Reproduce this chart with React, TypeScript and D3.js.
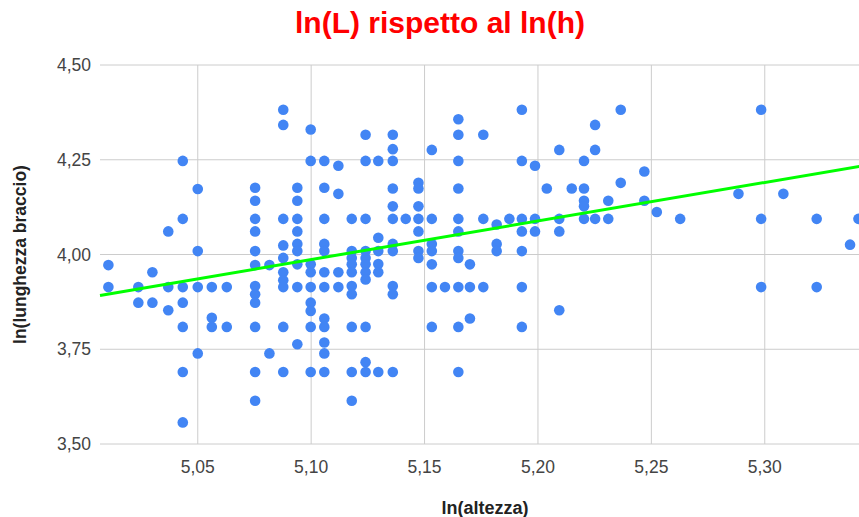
import React, { useEffect, useRef } from "react";
import * as d3 from "d3";

// ln(altezza) -> ln(lunghezza braccio)
const colonne: [number, number[]][] = [
  [5.0106, [3.972, 3.914]],
  [5.0238, [3.914, 3.873]],
  [5.030, [3.953, 3.873]],
  [5.037, [4.061, 3.914, 3.853]],
  [5.0434, [4.247, 4.094, 3.914, 3.873, 3.809, 3.690, 3.557]],
  [5.05, [4.173, 4.009, 3.914, 3.739]],
  [5.0562, [3.914, 3.833, 3.809]],
  [5.0628, [3.914, 3.809]],
  [5.0753, [4.176, 4.142, 4.094, 4.061, 4.009, 3.972, 3.917, 3.895, 3.873, 3.809, 3.690, 3.614]],
  [5.0816, [3.972, 3.739]],
  [5.0877, [4.382, 4.342, 4.094, 4.024, 3.991, 3.953, 3.932, 3.914, 3.809, 3.690]],
  [5.0939, [4.176, 4.142, 4.094, 4.061, 4.028, 4.009, 3.974, 3.914, 3.763]],
  [5.0998, [4.330, 4.247, 3.974, 3.953, 3.914, 3.873, 3.851, 3.809, 3.690]],
  [5.1058, [4.247, 4.176, 4.094, 4.028, 4.009, 3.953, 3.914, 3.831, 3.809, 3.768, 3.739, 3.690]],
  [5.112, [4.234, 4.160, 3.953, 3.914]],
  [5.1179, [4.094, 4.009, 3.991, 3.974, 3.953, 3.917, 3.895, 3.809, 3.690, 3.614]],
  [5.124, [4.316, 4.247, 4.094, 4.009, 3.991, 3.974, 3.953, 3.934, 3.809, 3.716, 3.690]],
  [5.1296, [4.247, 4.044, 4.009, 3.975, 3.953, 3.690]],
  [5.136, [4.316, 4.278, 4.247, 4.174, 4.127, 4.094, 4.028, 4.009, 3.917, 3.895, 3.690]],
  [5.1417, [4.094]],
  [5.1473, [4.189, 4.174, 4.127, 4.094, 4.061, 4.009, 3.991]],
  [5.1532, [4.276, 4.094, 4.028, 4.009, 3.974, 3.914, 3.809]],
  [5.159, [3.914]],
  [5.1649, [4.357, 4.316, 4.247, 4.174, 4.094, 4.061, 4.009, 3.991, 3.914, 3.809, 3.690]],
  [5.170, [3.974, 3.914, 3.831]],
  [5.1759, [4.316, 4.094, 3.914]],
  [5.1818, [4.079, 4.028, 4.009]],
  [5.1874, [4.094]],
  [5.1929, [4.382, 4.247, 4.094, 4.061, 4.009, 3.914, 3.809]],
  [5.1987, [4.234, 4.094, 4.061]],
  [5.2039, [4.174]],
  [5.2094, [4.276, 4.094, 4.061, 3.853]],
  [5.2149, [4.174]],
  [5.2203, [4.247, 4.174, 4.142, 4.127, 4.094]],
  [5.2252, [4.342, 4.276, 4.094]],
  [5.231, [4.142, 4.094]],
  [5.2365, [4.382, 4.189]],
  [5.2469, [4.219, 4.142]],
  [5.2524, [4.112]],
  [5.2627, [4.094]],
  [5.2884, [4.160]],
  [5.2984, [4.382, 4.094, 3.914]],
  [5.3082, [4.160]],
  [5.3229, [4.094, 3.914]],
  [5.3376, [4.026]],
  [5.3413, [4.094]],
];

const xTicks = [5.05, 5.1, 5.15, 5.2, 5.25, 5.3];
const yTicks = [3.5, 3.75, 4.0, 4.25, 4.5];

// linea di tendenza (lineare)
const trendSlope = 1.017;
const trendIntercept = -1.2;

const titolo = "ln(L) rispetto al ln(h)";
const titoloX = "ln(altezza)";
const titoloY = "ln(lunghezza braccio)";

const W = 859;
const H = 517;
const margin = { top: 65, left: 100, bottom: 73, right: -11 };

export default function App() {
  const ref = useRef<SVGSVGElement>(null);

  useEffect(() => {
    document.body.style.margin = "0";
    document.body.style.overflow = "hidden";
    const svg = d3.select(ref.current);
    svg.selectAll("*").remove();

    const points = colonne.flatMap(([x, ys]) => ys.map((y) => ({ x, y })));

    const x = d3.scaleLinear().domain([5.0069, 5.3464]).range([margin.left, W - margin.right]);
    const y = d3.scaleLinear().domain([3.5, 4.5]).range([H - margin.bottom, margin.top]);
    const fmt = (v: number) => d3.format(".2f")(v).replace(".", ",");
    const font = "'Liberation Sans', Arial, sans-serif";

    // gridlines
    const grid = svg.append("g");
    grid.selectAll("line.h").data(yTicks).join("line")
      .attr("x1", margin.left).attr("x2", W - margin.right)
      .attr("y1", (d) => y(d)).attr("y2", (d) => y(d))
      .attr("stroke", "#cccccc").attr("stroke-width", 1);
    grid.selectAll("line.v").data(xTicks).join("line")
      .attr("class", "v")
      .attr("x1", (d) => x(d)).attr("x2", (d) => x(d))
      .attr("y1", margin.top).attr("y2", H - margin.bottom)
      .attr("stroke", "#cccccc").attr("stroke-width", 1);

    // tick labels
    svg.append("g").selectAll("text").data(yTicks).join("text")
      .attr("x", margin.left - 9).attr("y", (d) => y(d))
      .attr("dy", "0.35em").attr("text-anchor", "end")
      .attr("font-family", font).attr("font-size", 17.5).attr("fill", "#444")
      .text(fmt);
    svg.append("g").selectAll("text").data(xTicks).join("text")
      .attr("x", (d) => x(d)).attr("y", H - margin.bottom + 29)
      .attr("text-anchor", "middle")
      .attr("font-family", font).attr("font-size", 17.5).attr("fill", "#444")
      .text(fmt);

    // points
    svg.append("g").selectAll("circle").data(points).join("circle")
      .attr("cx", (d) => x(d.x)).attr("cy", (d) => y(d.y))
      .attr("r", 5.3).attr("fill", "#4285f4");

    // trend line
    const [x0, x1] = x.domain();
    svg.append("line")
      .attr("x1", x(x0)).attr("y1", y(trendSlope * x0 + trendIntercept))
      .attr("x2", x(x1)).attr("y2", y(trendSlope * x1 + trendIntercept))
      .attr("stroke", "#00ff00").attr("stroke-width", 3);

    // titles
    svg.append("text")
      .attr("x", 440).attr("y", 33).attr("text-anchor", "middle")
      .attr("font-family", font).attr("font-size", 30).attr("font-weight", "bold")
      .attr("fill", "#ff0000").text(titolo);
    svg.append("text")
      .attr("x", (margin.left + W - margin.right) / 2).attr("y", 514)
      .attr("text-anchor", "middle")
      .attr("font-family", font).attr("font-size", 18).attr("font-weight", "bold")
      .attr("fill", "#222").text(titoloX);
    svg.append("text")
      .attr("transform", `translate(26,${(margin.top + H - margin.bottom) / 2}) rotate(-90)`)
      .attr("text-anchor", "middle")
      .attr("font-family", font).attr("font-size", 17.5).attr("font-weight", "bold")
      .attr("fill", "#222").text(titoloY);
  }, []);

  return <svg ref={ref} width={W} height={H} style={{ display: "block", background: "#fff" }} />;
}
